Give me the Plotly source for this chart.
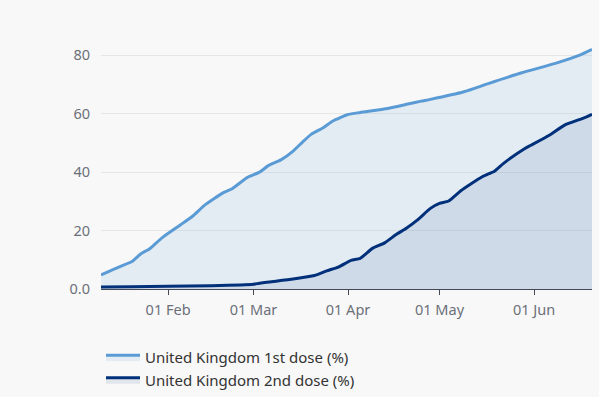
import plotly.graph_objects as go

dates_first = ["2021-01-10", "2021-01-16", "2021-01-20", "2021-01-23", "2021-01-26", "2021-01-30",
               "2021-02-05", "2021-02-09", "2021-02-13", "2021-02-19", "2021-02-22", "2021-02-27",
               "2021-03-03", "2021-03-06", "2021-03-10", "2021-03-14", "2021-03-17", "2021-03-20",
               "2021-03-24", "2021-03-27", "2021-04-01", "2021-04-05", "2021-04-14", "2021-04-21",
               "2021-04-25", "2021-04-28", "2021-05-09", "2021-05-17", "2021-05-28", "2021-06-08",
               "2021-06-16", "2021-06-20"]
first_dose = [4.8, 7.6, 9.3, 12.0, 13.8, 17.5,
              21.9, 24.9, 28.7, 32.9, 34.3, 38.2,
              40.0, 42.3, 44.2, 47.2, 50.2, 53.0,
              55.3, 57.5, 59.7, 60.4, 61.8, 63.4,
              64.3, 64.9, 67.5, 70.3, 74.0, 77.2,
              80.0, 82.0]

dates_second = ["2021-01-10", "2021-01-20", "2021-02-01", "2021-02-15", "2021-03-01", "2021-03-03",
                "2021-03-14", "2021-03-21", "2021-03-25", "2021-03-29", "2021-04-02", "2021-04-05",
                "2021-04-09", "2021-04-13", "2021-04-17", "2021-04-20", "2021-04-24", "2021-04-28",
                "2021-05-01", "2021-05-04", "2021-05-08", "2021-05-15", "2021-05-19", "2021-05-22",
                "2021-05-29", "2021-05-31", "2021-06-06", "2021-06-11", "2021-06-17", "2021-06-20"]
second_dose = [0.7, 0.8, 0.9, 1.1, 1.6, 2.0,
               3.4, 4.6, 6.2, 7.6, 9.8, 10.5,
               13.9, 15.8, 18.8, 20.7, 23.8, 27.6,
               29.3, 30.1, 33.6, 38.4, 40.3, 43.0,
               48.1, 49.2, 52.6, 56.1, 58.4, 59.8]

y_ticks = [0, 20, 40, 60, 80]
y_tick_labels = ["0.0", "20", "40", "60", "80"]
x_ticks = ["2021-02-01", "2021-03-01", "2021-04-01", "2021-05-01", "2021-06-01"]
x_tick_labels = ["01 Feb", "01 Mar", "01 Apr", "01 May", "01 Jun"]

fig = go.Figure()
fig.add_trace(go.Scatter(
    x=dates_first, y=first_dose, name="United Kingdom 1st dose (%)",
    mode="lines", line=dict(color="#5b9bd5", width=3, shape="spline", smoothing=0.5),
    fill="tozeroy", fillcolor="rgba(91,155,213,0.12)"))
fig.add_trace(go.Scatter(
    x=dates_second, y=second_dose, name="United Kingdom 2nd dose (%)",
    mode="lines", line=dict(color="#00307a", width=3, shape="spline", smoothing=0.5),
    fill="tozeroy", fillcolor="rgba(0,48,122,0.09)"))

fig.update_layout(
    width=599, height=420,
    margin=dict(l=101, r=7, t=26, b=131),
    paper_bgcolor="#f8f8f8", plot_bgcolor="#f8f8f8",
    font=dict(family="Noto Sans, Open Sans, sans-serif", size=14, color="#6b7079"),
    showlegend=True,
    legend=dict(orientation="v", x=0, xanchor="left", y=-0.1977, yanchor="top", itemwidth=34,
                font=dict(size=15, color="#333333"), bgcolor="rgba(0,0,0,0)"),
    xaxis=dict(range=["2021-01-10", "2021-06-20"], tickvals=x_ticks, ticktext=x_tick_labels,
               showgrid=False, showline=True, linecolor="#444a55", linewidth=1,
               ticks="outside", ticklen=5, tickcolor="#444a55", zeroline=False,
               ticklabelstandoff=3,
               tickfont=dict(size=14.5, color="#6b7079")),
    yaxis=dict(range=[0, 90], tickvals=y_ticks, ticktext=y_tick_labels,
               showgrid=True, gridcolor="#e6e6e6", gridwidth=1, zeroline=False,
               showline=False, ticks="", ticklabelstandoff=10,
               tickfont=dict(size=14.5, color="#6b7079")),
)

fig.write_html("out.html", config={"displayModeBar": False},
               post_script="document.body.style.margin='0';document.body.style.overflow='hidden';"
                           "document.documentElement.style.overflow='hidden';"
                           "document.body.style.background='#f8f8f8';")
